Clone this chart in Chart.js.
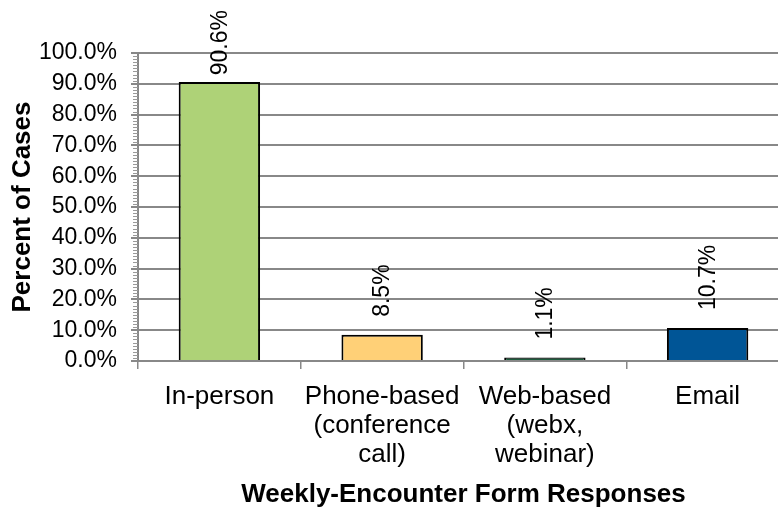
<!DOCTYPE html>
<html><head><meta charset="utf-8">
<script src="https://cdn.jsdelivr.net/npm/chart.js@4/dist/chart.umd.min.js"></script>
<style>
html,body{margin:0;padding:0;background:#fff;overflow:hidden;}
#wrap{width:778px;height:512px;overflow:hidden;position:relative;}
canvas{display:block;}
</style></head><body>
<div id="wrap"><canvas id="c" width="800" height="512"></canvas></div>
<script>
const categories = ['In-person', ['Phone-based', '(conference', 'call)'], ['Web-based', '(webx,', 'webinar)'], 'Email'];
const percentOfCases = [90.6, 8.5, 1.1, 10.7];
const barColors = ['#AED277', '#FFD077', '#1D5B3C', '#005596'];
const yMin = 0, yMax = 100, yStep = 10, yMinorStep = 1;
const xTitle = 'Weekly-Encounter Form Responses';
const yTitle = 'Percent of Cases';

const FONT = '"Liberation Sans", Arial, Helvetica, sans-serif';

// small minor tick marks on the left side of the value axis
const minorTicks = {
  id: 'minorTicks',
  afterDraw(chart) {
    const y = chart.scales.y, area = chart.chartArea, ctx = chart.ctx;
    ctx.save();
    ctx.strokeStyle = '#9a9a9a';
    ctx.lineWidth = 1;
    for (let v = yMin; v <= yMax; v += yMinorStep) {
      if (v % yStep === 0) continue;
      const py = Math.round(y.getPixelForValue(v)) + 0.5;
      ctx.beginPath();
      ctx.moveTo(area.left - 5, py);
      ctx.lineTo(area.left, py);
      ctx.stroke();
    }
    ctx.restore();
  }
};

// rotated value labels above each bar, kept inside the canvas
const valueLabels = {
  id: 'valueLabels',
  afterDatasetsDraw(chart) {
    const ctx = chart.ctx;
    const meta = chart.getDatasetMeta(0);
    ctx.save();
    ctx.font = '23px ' + FONT;
    ctx.fillStyle = '#000';
    ctx.textAlign = 'left';
    ctx.textBaseline = 'middle';
    meta.data.forEach((bar, i) => {
      const txt = percentOfCases[i].toFixed(1) + '%';
      const w = ctx.measureText(txt).width;
      let base = bar.y - 18;
      if (base - w < 10) base = 10 + w;
      ctx.save();
      ctx.translate(bar.x + 1, base);
      ctx.rotate(-Math.PI / 2);
      ctx.fillText(txt, 0, 0);
      ctx.restore();
    });
    ctx.restore();
  }
};

new Chart(document.getElementById('c'), {
  type: 'bar',
  data: {
    labels: categories,
    datasets: [{
      data: percentOfCases,
      backgroundColor: barColors,
      borderColor: '#000',
      borderWidth: 2,
      barPercentage: 0.5,
      categoryPercentage: 1.0
    }]
  },
  options: {
    responsive: false,
    animation: false,
    devicePixelRatio: 1,
    layout: { padding: { top: 53, right: 11, left: 0, bottom: 0 } },
    plugins: { legend: { display: false }, tooltip: { enabled: false } },
    scales: {
      x: {
        offset: true,
        grid: { offset: true, drawOnChartArea: false, drawTicks: true, tickLength: 8, color: '#888', lineWidth: 1.5 },
        border: { display: true, color: '#888', width: 2 },
        ticks: { color: '#000', font: { size: 26, family: FONT, lineHeight: 1.1 }, padding: 14, maxRotation: 0, autoSkip: false },
        title: { display: true, text: xTitle, color: '#000', font: { size: 26, weight: 'bold', family: FONT }, padding: { top: 0, bottom: 2 } },
        afterFit(s) { s.height = 151; }
      },
      y: {
        min: yMin, max: yMax,
        ticks: { stepSize: yStep, callback: v => v.toFixed(1) + '%', color: '#000', font: { size: 23, family: FONT }, padding: 14 },
        grid: { color: '#888', lineWidth: 2, tickLength: 7, drawTicks: true },
        border: { display: true, color: '#888', width: 2 },
        title: { display: true, text: yTitle, color: '#000', font: { size: 26, weight: 'bold', family: FONT }, padding: { top: 7, bottom: 0 } },
        afterFit(s) { s.width = 138; }
      }
    }
  },
  plugins: [minorTicks, valueLabels]
});
</script>
</body></html>
